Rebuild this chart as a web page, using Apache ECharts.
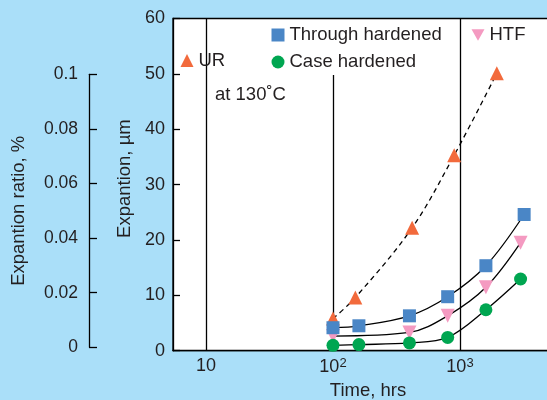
<!DOCTYPE html>
<html>
<head>
<meta charset="utf-8">
<script src="https://cdn.jsdelivr.net/npm/echarts@6/dist/echarts.min.js"></script>
<style>
  html, body { margin: 0; padding: 0; background: #aadff9; }
  #chart { width: 547px; height: 400px; }
</style>
</head>
<body>
<div id="chart"></div>
<script>
// time (hrs) / expansion (um)
let urTime = [100, 150, 420, 900, 1950];
let urExp = [5.8, 9.6, 22.2, 35.3, 50.1];

let thTime = [100, 160, 400, 800, 1600, 3200];
let thExp = [4.15, 4.5, 6.3, 9.75, 15.35, 24.6];

let htfTime = [100, 400, 800, 1600, 3000];
let htfExp = [2.65, 3.3, 6.3, 11.45, 19.5];

let chTime = [100, 160, 400, 800, 1600, 3000];
let chExp = [0.97, 1.1, 1.4, 2.4, 7.4, 12.95];

let xTicks = [10, 100, 1000];
let ratioTicks = [0, 0.02, 0.04, 0.06, 0.08, 0.1];

const FONT = '"Liberation Sans", Arial, sans-serif';
const TXT = '#231f20';

function pairs(xs, ys) {
    return xs.map((x, i) => [x, ys[i]]);
}

let chart = echarts.init(document.getElementById('chart'), null, {renderer: 'canvas'});

let lineStyle = {color: '#000', width: 1.3};
let legendText = {fontSize: 18.5, color: TXT, fontFamily: FONT};

let option = {
    backgroundColor: '#aadff9',
    animation: false,
    textStyle: {fontFamily: FONT, color: TXT},
    grid: [
        {
            left: 173, top: 18.5, width: 400, height: 332.2,
            outerBoundsMode: 'none', containLabel: false,
            show: true, backgroundColor: '#fff', borderColor: '#000', borderWidth: 1.3
        },
        {left: 89, top: 74.3, width: 10, height: 273, outerBoundsMode: 'none'}
    ],
    xAxis: [
        {
            type: 'log', logBase: 10, gridIndex: 0,
            min: 5.5, max: 7760,
            axisLine: {show: true, lineStyle: {color: '#000', width: 1.3}},
            axisTick: {show: false},
            splitLine: {show: false},
            axisLabel: {
                fontSize: 18, color: TXT, fontFamily: FONT, margin: 6,
                formatter: (v) => {
                    let i = xTicks.indexOf(Math.round(v));
                    if (i < 0 || Math.abs(v - xTicks[i]) > 1e-6 * v) return '';
                    if (i === 0) return '10';
                    return '10{sup|' + (i + 1) + '}';
                },
                rich: {
                    sup: {fontSize: 13, verticalAlign: 'top', padding: [0, 0, 8, 0], color: TXT, fontFamily: FONT}
                }
            },
            name: 'Time, hrs',
            nameLocation: 'middle',
            nameGap: 31,
            nameTextStyle: {fontSize: 18.5, color: TXT, fontFamily: FONT, padding: [0, 10, 0, 0]}
        },
        {type: 'value', gridIndex: 1, show: false, min: 0, max: 1}
    ],
    yAxis: [
        {
            type: 'value', gridIndex: 0,
            min: 0, max: 60, interval: 10,
            axisLine: {show: true, lineStyle: {color: '#000', width: 1.3}},
            axisTick: {show: true, inside: true, length: 7, lineStyle: {color: '#000', width: 1.3}},
            splitLine: {show: false},
            axisLabel: {fontSize: 18, color: TXT, fontFamily: FONT, margin: 8},
            name: 'Expantion, µm',
            nameLocation: 'middle',
            nameRotate: 90,
            nameGap: 35,
            nameTextStyle: {fontSize: 18.5, color: TXT, fontFamily: FONT, padding: [0, 0, 0, 12]}
        },
        {
            type: 'value', gridIndex: 1,
            min: 0, max: 0.1, interval: 0.02,
            axisLine: {show: true, lineStyle: {color: '#000', width: 1.3}},
            axisTick: {show: true, inside: true, length: 8, lineStyle: {color: '#000', width: 1.3}},
            splitLine: {show: false},
            axisLabel: {
                fontSize: 17.5, color: TXT, fontFamily: FONT, margin: 11,
                formatter: (v) => {
                    let t = ratioTicks.find(r => Math.abs(r - v) < 1e-9);
                    return t === undefined ? '' : String(t);
                }
            },
            name: 'Expantion ratio, %',
            nameLocation: 'middle',
            nameRotate: 90,
            nameGap: 61,
            nameTextStyle: {fontSize: 18.5, color: TXT, fontFamily: FONT}
        }
    ],
    legend: [
        {
            left: 180.5, top: 51, padding: 0, itemWidth: 13, itemHeight: 13,
            textStyle: legendText,
            data: [{name: 'UR', icon: 'triangle'}]
        },
        {
            left: 271.5, top: 25.5, padding: 0, orient: 'vertical', itemWidth: 13, itemHeight: 13, itemGap: 8,
            textStyle: legendText,
            data: [{name: 'Through hardened', icon: 'rect'}, {name: 'Case hardened', icon: 'circle'}]
        },
        {
            left: 471.5, top: 25.5, padding: 0, itemWidth: 13, itemHeight: 13,
            textStyle: legendText,
            data: [{name: 'HTF', icon: 'path://M0,0 L10,0 L5,9 Z'}]
        }
    ],
    graphic: [
        {
            type: 'text', left: 215, top: 85,
            style: {text: 'at 130˚C', fontSize: 18.5, fontFamily: FONT, fill: TXT}
        }
    ],
    series: [
        {
            name: 'UR', type: 'line', xAxisIndex: 0, yAxisIndex: 0,
            data: pairs(urTime, urExp),
            smooth: 0.35,
            symbol: 'triangle', symbolSize: 14,
            itemStyle: {color: '#f26a3c'},
            lineStyle: {color: '#000', width: 1.3, type: [5, 4]},
            z: 5,
            markLine: {
                silent: true,
                symbol: 'none',
                label: {show: false},
                lineStyle: {color: '#000', width: 1.3, type: 'solid'},
                data: [
                    [{coord: [10, 0]}, {coord: [10, 60]}],
                    [{coord: [100, 0]}, {coord: [100, 49.8]}],
                    [{coord: [1000, 0]}, {coord: [1000, 60]}]
                ],
                z: 1
            }
        },
        {
            name: 'Through hardened', type: 'line',
            data: pairs(thTime, thExp),
            smooth: 0.35,
            symbol: 'rect', symbolSize: 13,
            itemStyle: {color: '#4a86c6'},
            lineStyle: lineStyle,
            z: 5
        },
        {
            name: 'HTF', type: 'line',
            data: pairs(htfTime, htfExp),
            smooth: 0.35,
            symbol: 'triangle', symbolRotate: 180, symbolSize: 14,
            itemStyle: {color: '#f49ac1'},
            lineStyle: lineStyle,
            z: 4
        },
        {
            name: 'Case hardened', type: 'line',
            data: pairs(chTime, chExp),
            smooth: 0.35,
            symbol: 'circle', symbolSize: 13,
            itemStyle: {color: '#00a651'},
            lineStyle: lineStyle,
            z: 6
        }
    ]
};

chart.setOption(option);
</script>
</body>
</html>
